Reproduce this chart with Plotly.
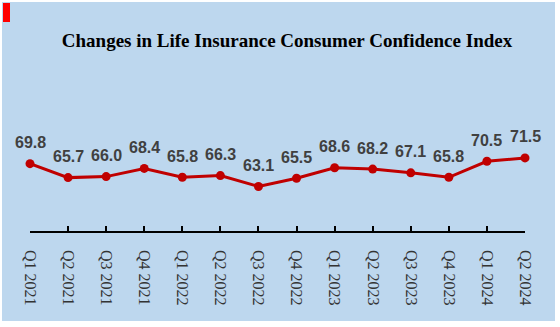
import plotly.graph_objects as go

quarters = ["Q1 2021", "Q2 2021", "Q3 2021", "Q4 2021", "Q1 2022", "Q2 2022", "Q3 2022",
            "Q4 2022", "Q1 2023", "Q2 2023", "Q3 2023", "Q4 2023", "Q1 2024", "Q2 2024"]
index_values = [69.8, 65.7, 66.0, 68.4, 65.8, 66.3, 63.1, 65.5, 68.6, 68.2, 67.1, 65.8, 70.5, 71.5]

W, H = 560, 327
L, R, T, B = 30, 35, 129, 96
pw = W - L - R
ph = H - T - B

def px_x(p):
    return (p - L) / pw

def px_y(p):
    return (H - B - p) / ph

fig = go.Figure()
fig.add_trace(go.Scatter(
    x=list(range(len(quarters))), y=index_values, mode="lines+markers",
    line=dict(color="#C00000", width=3),
    marker=dict(color="#C00000", size=9),
    cliponaxis=False, hoverinfo="skip", showlegend=False,
))
for i, v in enumerate(index_values):
    fig.add_annotation(x=i, y=v, text=f"<b>{v:.1f}</b>", showarrow=False, yshift=21,
                       font=dict(family="Liberation Sans, Arial", size=16, color="#404040"),
                       xanchor="center", yanchor="middle")

fig.add_shape(type="rect", xref="paper", yref="paper", layer="below",
              x0=px_x(2), x1=px_x(555), y0=px_y(321), y1=px_y(2),
              fillcolor="#BDD7EE", line=dict(width=0))
fig.add_shape(type="rect", xref="paper", yref="paper", layer="below",
              x0=px_x(3), x1=px_x(10), y0=px_y(22), y1=px_y(3),
              fillcolor="#FF0000", line=dict(width=0))

fig.update_layout(
    width=W, height=H,
    margin=dict(l=L, r=R, t=T, b=B),
    paper_bgcolor="white", plot_bgcolor="rgba(0,0,0,0)",
    title=dict(text="<b>Changes in Life Insurance Consumer Confidence Index</b>",
               x=287 / W, xanchor="center", y=1 - 40 / H, yanchor="middle",
               font=dict(family="Liberation Serif", size=19, color="black")),
    xaxis=dict(range=[0, len(quarters) - 1], tickmode="array",
               tickvals=list(range(len(quarters))), ticktext=quarters,
               tickangle=90, ticks="inside", ticklen=5, tickcolor="black", tickwidth=1.5,
               showline=True, linecolor="black", linewidth=1.5,
               showgrid=False, zeroline=False, ticklabelstandoff=14,
               tickfont=dict(family="Liberation Serif", size=16, color="#333333")),
    yaxis=dict(range=[50, 80], visible=False),
)
fig.write_html("out.html")
